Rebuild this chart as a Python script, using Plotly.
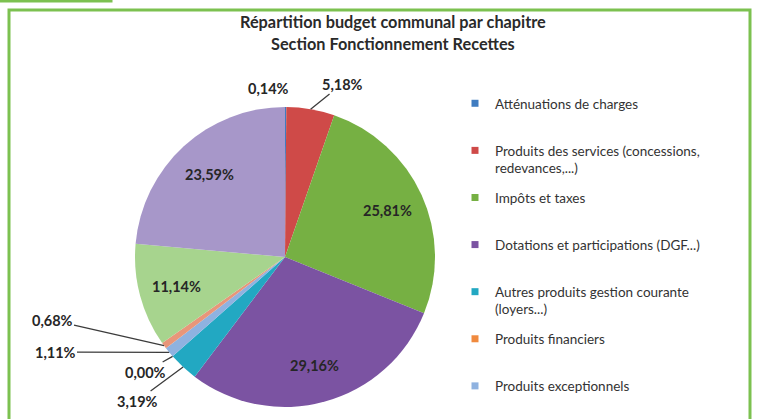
import math
import plotly.graph_objects as go

# Chapitres de recettes de fonctionnement (ordre du camembert, sens horaire depuis midi)
labels = [
    "Atténuations de charges",
    "Produits des services (concessions, redevances,...)",
    "Impôts et taxes",
    "Dotations et participations (DGF...)",
    "Autres produits gestion courante (loyers...)",
    "Produits financiers",
    "Produits exceptionnels",
    "Opérations d'ordre",
    "Excédent de fonctionnement reporté",
    "Autres recettes",
]
values = [0.14, 5.18, 25.81, 29.16, 3.19, 0.00, 1.11, 0.68, 11.14, 23.59]

# Texte de la légende (seuls les 7 premiers postes sont visibles)
legend_text = [
    "Atténuations de charges",
    "Produits des services (concessions,<br>redevances,...)",
    "Impôts et taxes",
    "Dotations et participations (DGF...)",
    "Autres produits gestion courante<br>(loyers...)",
    "Produits financiers",
    "Produits exceptionnels",
]

title_lines = ["Répartition budget communal par chapitre", "Section Fonctionnement Recettes"]

colors = ["#3f7cc0", "#cf4a48", "#76b043", "#7b53a2", "#22a8c2",
          "#f08a3e", "#8fb2e0", "#e8967a", "#a7d48e", "#a797c9"]

W, H = 757, 419
CX, CY, R = 285, 257, 150          # pie centre / radius in pixels


def fmt(v):
    return f"{v:.2f}".replace(".", ",") + "%"


def px_x(x):
    return x / W


def px_y(y):
    return 1 - y / H


fig = go.Figure()

fig.add_trace(go.Pie(
    labels=labels,
    values=values,
    sort=False,
    direction="clockwise",
    rotation=0,
    textinfo="none",
    hovertemplate="%{label}: %{value:.2f}%<extra></extra>",
    marker=dict(colors=colors, line=dict(width=0)),
    showlegend=False,
    domain=dict(x=[px_x(CX - R), px_x(CX + R)], y=[px_y(CY + R), px_y(CY - R)]),
))

# legend entries (every entry two lines high so that they are evenly spaced)
for i, name in enumerate(legend_text):
    if "<br>" not in name:
        name = name + "<br> "
    fig.add_trace(go.Scatter(
        x=[None], y=[None], mode="markers", name=name, legendgroup=str(i),
        marker=dict(symbol="square", size=7, color=colors[i]),
    ))

# slice mid angles (deg, clockwise from 12 o'clock)
total = sum(values)
mids = []
acc = 0
for v in values:
    mids.append((acc + v / 2) / total * 360)
    acc += v


def polar(angle, r):
    a = math.radians(angle)
    return CX + r * math.sin(a), CY - r * math.cos(a)


annotations = []
label_font = dict(family="Lato", size=14.5, color="#262626", weight="bold")

# title
for line, ty in zip(title_lines, [22, 43]):
    annotations.append(dict(x=px_x(393), y=px_y(ty), xref="paper", yref="paper",
                            xanchor="center", yanchor="middle", text=line, showarrow=False,
                            font=dict(family="Lato", size=16.3, color="#2a2a2a", weight="bold")))

# labels inside the big slices
for i in [2, 3, 8, 9]:
    lx, ly = polar(mids[i], 0.75 * R)
    annotations.append(dict(x=px_x(lx), y=px_y(ly), xref="paper", yref="paper",
                            xanchor="center", yanchor="middle",
                            text=fmt(values[i]), showarrow=False, font=label_font))

# labels outside the small slices (text centre in pixels)
outside = {0: (268, 88), 1: (342, 84), 7: (52, 320), 6: (55, 352), 5: (145, 372), 4: (137, 401)}
for i, (tx, ty) in outside.items():
    ex, ey = polar(mids[i], R)
    if i == 0:
        annotations.append(dict(x=px_x(tx), y=px_y(ty), xref="paper", yref="paper",
                                xanchor="center", yanchor="middle",
                                text=fmt(values[i]), showarrow=False, font=label_font))
    else:
        annotations.append(dict(x=px_x(ex), y=px_y(ey), xref="paper", yref="paper",
                                ax=tx - ex, ay=ty - ey, text=fmt(values[i]),
                                showarrow=True, arrowhead=0, arrowwidth=1.3,
                                arrowcolor="#3c3c3c", standoff=0, font=label_font))

fig.update_layout(
    width=W, height=H,
    margin=dict(l=0, r=0, t=0, b=0),
    paper_bgcolor="white",
    plot_bgcolor="white",
    xaxis=dict(visible=False),
    yaxis=dict(visible=False),
    showlegend=True,
    legend=dict(
        x=px_x(455), xanchor="left", y=px_y(88), yanchor="top",
        traceorder="grouped", tracegroupgap=9, valign="top",
        font=dict(family="Lato", size=13.5, color="#333333"),
        bgcolor="rgba(0,0,0,0)",
    ),
    annotations=annotations,
    shapes=[
        dict(type="rect", xref="paper", yref="paper",
             x0=px_x(9), x1=px_x(750), y0=-0.05, y1=px_y(10),
             line=dict(color="#7cc150", width=3)),
        dict(type="rect", xref="paper", yref="paper",
             x0=-0.05, x1=px_x(111), y0=px_y(1), y1=1.05,
             line=dict(color="#7cc150", width=3)),
    ],
)

# page body without its default margin so the figure sits at the window's corner
fig.write_html("out.html", config={"displayModeBar": False},
               post_script="document.body.style.margin='0';")
